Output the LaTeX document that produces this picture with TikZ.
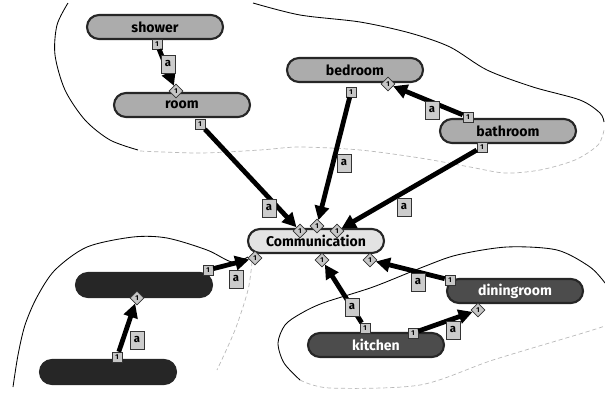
\documentclass[tikz,border=0pt]{standalone}
\usepackage{fontspec}
\setsansfont{Fira Sans}
\usetikzlibrary{arrows.meta, shapes.geometric}

\begin{document}
\begin{tikzpicture}[x=0.025cm, y=-0.025cm,
    room/.style={draw=black!85, line width=1.5pt, rounded corners=0.3cm, minimum width=3.4cm, minimum height=0.6cm, inner sep=0pt, font=\sffamily\bfseries},
    tag/.style={draw=black!80, fill=gray!45, minimum size=0.25cm, inner sep=0pt, font=\sffamily\bfseries\tiny},
    port/.style={diamond, draw=black!80, fill=gray!45, minimum size=0.35cm, inner sep=0pt, font=\sffamily\bfseries\tiny},
    abox/.style={draw=black!80, fill=gray!40, minimum width=0.34cm, minimum height=0.44cm, inner sep=0pt, font=\sffamily\bfseries\footnotesize},
    link/.style={-{Triangle[length=10pt, width=10pt]}, line width=3.4pt},
    region/.style={line width=0.6pt},
    faint/.style={gray!55, densely dashed, line width=0.5pt}
]
    \useasboundingbox (0,0) rectangle (605,395);

    % Regions
    \draw[region] plot[smooth] coordinates {(68,3) (57,25) (55,55) (65,90) (85,120) (110,140) (138,150)};
    \draw[region] plot[smooth] coordinates {(253,3) (300,15) (360,22) (410,33) (450,47) (487,70) (533,87) (580,100) (600,113) (604,122)};
    \draw[faint] plot[smooth] coordinates {(140,151) (200,153) (260,150) (300,147) (360,150) (420,158) (470,167) (505,173) (540,170) (575,160) (598,145) (604,130)};
    \draw[region] plot[smooth] coordinates {(13,387) (18,355) (25,325) (37,297) (55,270) (87,247) (133,237) (167,238) (207,250) (232,262) (248,257)};
    \draw[faint] plot[smooth] coordinates {(252,262) (248,290) (235,330) (217,370)};
    \draw[region] plot[smooth] coordinates {(300,380) (284,363) (278,343) (285,325) (300,314) (323,303) (373,287) (423,267) (457,255) (507,247) (557,250) (590,267) (605,283)};
    \draw[faint] plot[smooth] coordinates {(300,380) (330,388) (420,385) (493,360) (583,333) (605,326)};

    % Rooms
    \node[room, fill=gray!65] (shower) at (155,27) {shower};
    \node[room, fill=gray!65] (room) at (182,105) {room};
    \node[room, fill=gray!65] (bedroom) at (355,70) {bedroom};
    \node[room, fill=gray!65] (bathroom) at (508,131) {bathroom};
    \node[room, fill=gray!22] (comm) at (316,241) {Communication};
    \node[room, fill=black!85] (upper) at (144,285) {};
    \node[room, fill=black!85] (lower) at (108,372) {};
    \node[room, fill=black!70, text=white] (dining) at (515,291) {diningroom};
    \node[room, fill=black!70, text=white] (kitchen) at (376,345) {kitchen};

    % Source tags
    \node[tag] (t1) at (157,44) {1};
    \node[tag] (t2) at (200,124) {1};
    \node[tag] (t3) at (351,92) {1};
    \node[tag] (t4) at (482,147) {1};
    \node[tag] (t5) at (468,117) {1};
    \node[tag] (t6) at (208,270) {1};
    \node[tag] (t7) at (117,357) {1};
    \node[tag] (t8) at (365,328) {1};
    \node[tag] (t9) at (450,280) {1};
    \node[tag] (t10) at (413,333) {1};

    % Target ports
    \node[port] (p1) at (176,91) {1};
    \node[port] (p2) at (300,231) {1};
    \node[port] (p3) at (317,226) {1};
    \node[port] (p4) at (337,231) {1};
    \node[port] (p5) at (388,84) {1};
    \node[port] (p6) at (255,258) {1};
    \node[port] (p7) at (137,298) {1};
    \node[port] (p8) at (322,260) {1};
    \node[port] (p9) at (370,260) {1};
    \node[port] (p10) at (478,310) {1};

    % Links
    \draw[link] (t1) -- (p1);
    \draw[link] (t2) -- (p2);
    \draw[link] (t3) -- (p3);
    \draw[link] (t4) -- (p4);
    \draw[link] (t5) -- (p5);
    \draw[link] (t6) -- (p6);
    \draw[link] (t7) -- (p7);
    \draw[link] (t8) -- (p8);
    \draw[link] (t9) -- (p9);
    \draw[link] (t10) -- (p10);

    % Link labels
    \node[abox] (a1) at (168,64) {a};
    \node[abox] (a2) at (269,208) {a};
    \node[abox] (a3) at (344,163) {a};
    \node[abox] (a4) at (404,207) {a};
    \node[abox] (a5) at (432,110) {a};
    \node[abox] (a6) at (236,279) {a};
    \node[abox] (a7) at (137,340) {a};
    \node[abox] (a8) at (352,307) {a};
    \node[abox] (a9) at (418,282) {a};
    \node[abox] (a10) at (453,330) {a};
\end{tikzpicture}
\end{document}
